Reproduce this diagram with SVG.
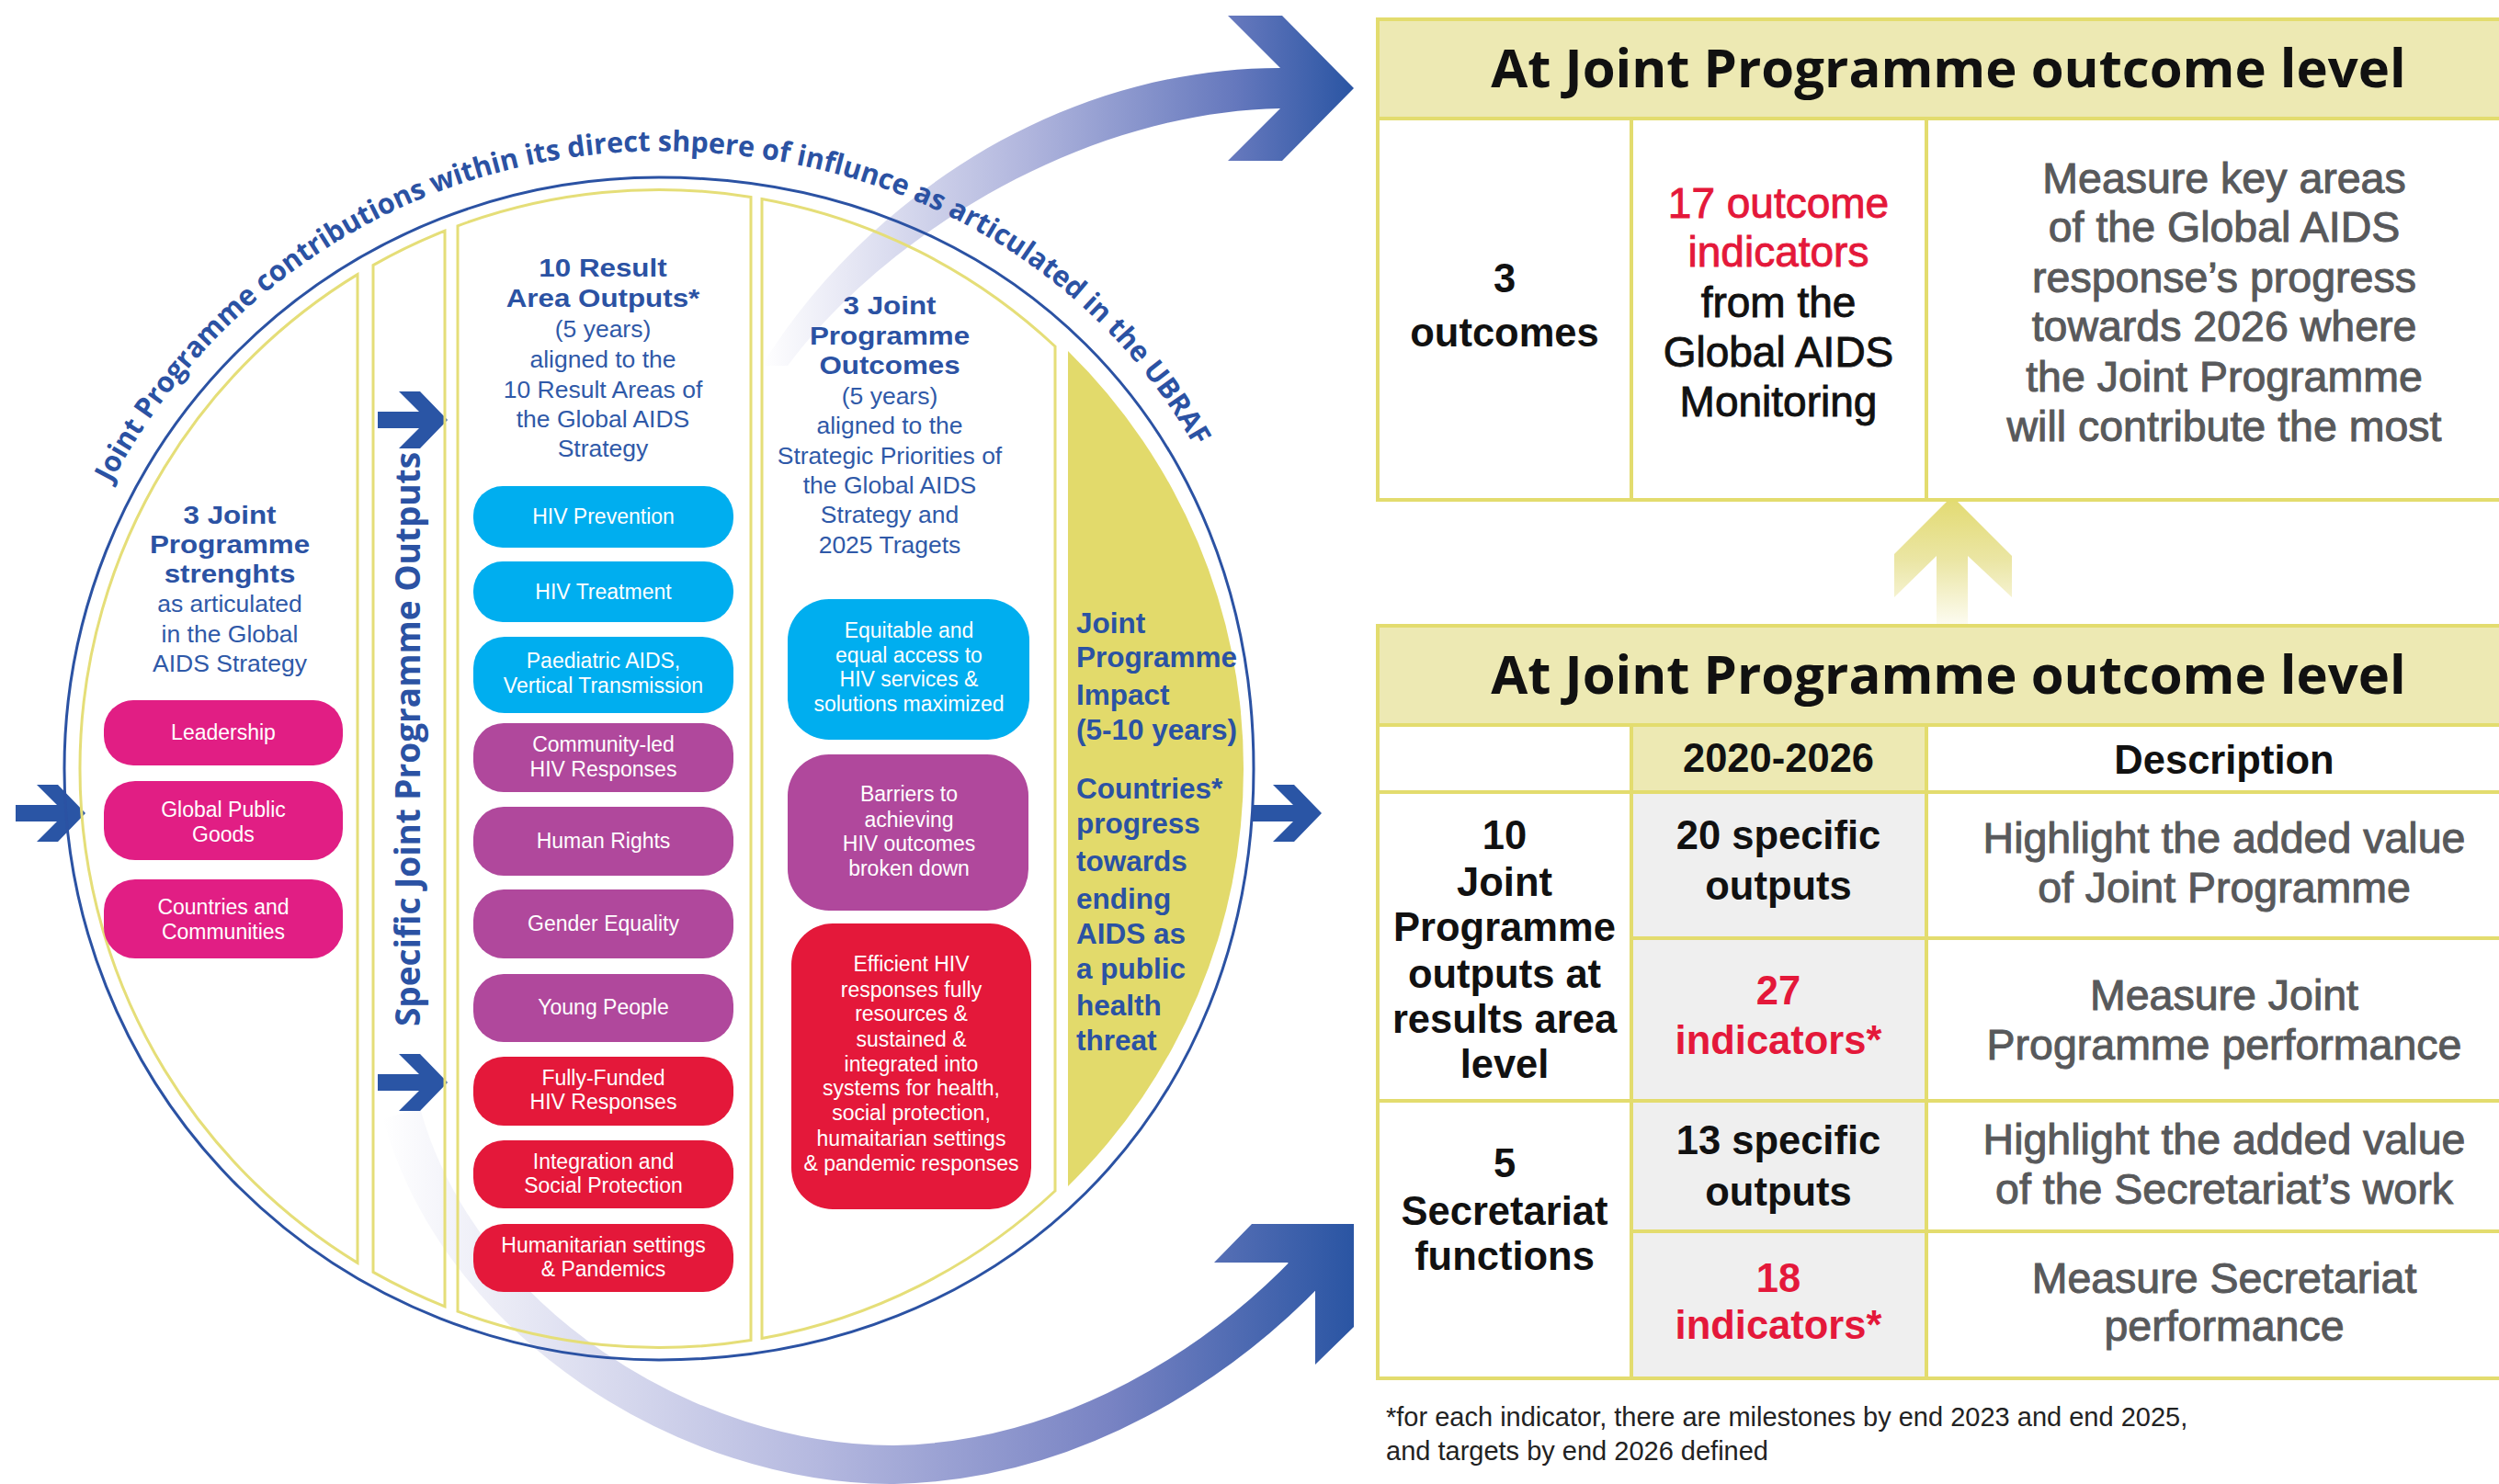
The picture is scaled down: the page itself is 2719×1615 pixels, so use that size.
<svg xmlns="http://www.w3.org/2000/svg" width="2719" height="1615" viewBox="0 0 2719 1615">
<defs>
<style>
text{font-family:"Liberation Sans","Open Sans",sans-serif}
.os{font-family:"Open Sans","Liberation Sans",sans-serif}
.hb{font-weight:700;font-size:28.5px;fill:#2b52a3;text-anchor:middle}
.hr{font-weight:400;font-size:26.5px;fill:#2f59a8;text-anchor:middle}
.imp{font-weight:700;font-size:31.5px;fill:#2b52a3}
.pt{font-size:23px;fill:#ffffff;text-anchor:middle}
.col{fill:none;stroke:#e5de78;stroke-width:3}
.mag{fill:#e11e84}
.cya{fill:#00aeef}
.pur{fill:#b0489c}
.red{fill:#e4183a}
.tb{fill:#ffffff;stroke:#e3dc6e;stroke-width:4}
.th{fill:#ede9b3;stroke:#e3dc6e;stroke-width:4}
.ln{stroke:#e3dc6e;stroke-width:4}
.tt{font-family:"Open Sans","Liberation Sans",sans-serif;font-weight:700;font-size:58px;fill:#111111;text-anchor:middle}
.k1{font-weight:700;font-size:43.5px;fill:#111111;text-anchor:middle}
.kr{font-weight:700;font-size:43.5px;fill:#e4183a;text-anchor:middle}
.m1{font-weight:400;font-size:46px;fill:#111111;stroke:#111111;stroke-width:0.9px;text-anchor:middle}
.mr{font-weight:400;font-size:46px;fill:#e4183a;stroke:#e4183a;stroke-width:0.9px;text-anchor:middle}
.gr{font-weight:400;font-size:46.5px;fill:#58595b;stroke:#58595b;stroke-width:1px;text-anchor:middle}
.blue{fill:#2a55a5}
</style>
<linearGradient id="gUp" gradientUnits="userSpaceOnUse" x1="829" y1="0" x2="1473" y2="0">
<stop offset="0" stop-color="#ffffff"/>
<stop offset="0.15" stop-color="#e6e7f4"/>
<stop offset="0.45" stop-color="#b0b5dd"/>
<stop offset="0.8" stop-color="#6578bd"/>
<stop offset="1" stop-color="#2a55a3"/>
</linearGradient>
<linearGradient id="gLow" gradientUnits="userSpaceOnUse" x1="416" y1="0" x2="1473" y2="0">
<stop offset="0" stop-color="#ffffff"/>
<stop offset="0.15" stop-color="#e6e7f4"/>
<stop offset="0.45" stop-color="#b4b8df"/>
<stop offset="0.75" stop-color="#7883c3"/>
<stop offset="1" stop-color="#2a55a3"/>
</linearGradient>
<linearGradient id="gYel" gradientUnits="userSpaceOnUse" x1="0" y1="540" x2="0" y2="681">
<stop offset="0" stop-color="#e2da70"/>
<stop offset="0.5" stop-color="#ebe6a5"/>
<stop offset="1" stop-color="#fdfcf2"/>
</linearGradient>
<polygon id="chev" points="-53,-31 -30,-31 0,0 -30,31 -53,31 -31,9 -76,9 -76,-9 -31,-9"/>
<path id="arc" d="M 45 836.5 A 672 672 0 0 1 717 164.5 C 1106.8 164.5 1389 446.7 1389 836.5"/>
</defs>

<rect x="0" y="0" width="2719" height="1615" fill="#ffffff"/>

<g id="connectors">
<path d="M 829 398 C 933 228 1143 74 1393 74 L 1336 17 L 1395 17 L 1473 96 L 1395 175 L 1336 175 L 1393 118 C 1180 122 965 254 857 398 Z" fill="url(#gUp)"/>
<path d="M 437 1212 C 500 1440 750 1595 973 1594 C 1170 1590 1330 1480 1424 1382" fill="none" stroke="url(#gLow)" stroke-width="42"/>
<polygon points="1321,1374 1362,1332 1473,1332 1473,1444 1431,1485 1431,1405 1401,1374" fill="url(#gLow)"/>
<polygon points="2124,540 2189,605 2189,650 2141,605 2141,681 2107,681 2107,605 2061,650 2061,603" fill="url(#gYel)"/>
<use href="#chev" class="blue" transform="translate(93,885)"/>
<use href="#chev" class="blue" transform="translate(1438,885)"/>
<use href="#chev" class="blue" transform="translate(487,457)"/>
<use href="#chev" class="blue" transform="translate(487,1178)"/>
</g>

<g id="frame">
<path d="M 717 193 C 1092.3 193 1364 463.3 1364 836.5 C 1364 1209.7 1092.3 1480 717 1480 A 647 643.5 0 0 1 70 836.5 A 647 643.5 0 0 1 717 193 Z" fill="none" stroke="#2b52a3" stroke-width="3"/>
<text class="os" font-size="31" font-weight="700" fill="#2b52a3"><textPath href="#arc" startOffset="323" textLength="1431" lengthAdjust="spacingAndGlyphs">Joint Programme contributions within its direct shpere of influnce as articulated in the UBRAF</textPath></text>
</g>

<g id="col-strengths">
<path class="col" d="M 389 298.6 L 389 1374.4 A 630 630 0 0 1 389 298.6 Z"/>
<g transform="translate(250 0) scale(1.1 1)">
<text class="hb" x="0" y="570">3 Joint</text>
<text class="hb" x="0" y="602">Programme</text>
<text class="hb" x="0" y="634">strenghts</text>
</g>
<text class="hr" x="250" y="666">as articulated</text>
<text class="hr" x="250" y="699">in the Global</text>
<text class="hr" x="250" y="731">AIDS Strategy</text>
</g>
<g id="col-specific">
<path class="col" d="M 406 288.6 A 630 630 0 0 1 484 251.2 L 484 1421.8 A 630 630 0 0 1 406 1384.4 Z"/>
<text class="os" transform="translate(457,1117) rotate(-90)" font-size="38" font-weight="700" fill="#2b52a3" textLength="625" lengthAdjust="spacingAndGlyphs">Specific Joint Programme Outputs</text>
</g>
<g id="col-results">
<path class="col" d="M 498 245.8 A 630 630 0 0 1 817 214.5 L 817 1458.5 A 630 630 0 0 1 498 1427.2 Z"/>
<g transform="translate(656 0) scale(1.1 1)">
<text class="hb" x="0" y="301">10 Result</text>
<text class="hb" x="0" y="334">Area Outputs*</text>
</g>
<text class="hr" x="656" y="367">(5 years)</text>
<text class="hr" x="656" y="400">aligned to the</text>
<text class="hr" x="656" y="433">10 Result Areas of</text>
<text class="hr" x="656" y="465">the Global AIDS</text>
<text class="hr" x="656" y="497">Strategy</text>
</g>
<g id="col-outcomes">
<path class="col" d="M 829 216.5 A 630 630 0 0 1 1148 377 L 1148 1296 A 630 630 0 0 1 829 1456.5 Z"/>
<g transform="translate(968 0) scale(1.1 1)">
<text class="hb" x="0" y="342">3 Joint</text>
<text class="hb" x="0" y="375">Programme</text>
<text class="hb" x="0" y="407">Outcomes</text>
</g>
<text class="hr" x="968" y="440">(5 years)</text>
<text class="hr" x="968" y="472">aligned to the</text>
<text class="hr" x="968" y="505">Strategic Priorities of</text>
<text class="hr" x="968" y="537">the Global AIDS</text>
<text class="hr" x="968" y="569">Strategy and</text>
<text class="hr" x="968" y="602">2025 Tragets</text>
</g>
<g id="col-impact">
<path d="M 1162 382.1 A 636 636 0 0 1 1162 1290.9 Z" fill="#e2da6b"/>
<text class="imp" x="1171" y="689">Joint</text>
<text class="imp" x="1171" y="726">Programme</text>
<text class="imp" x="1171" y="767">Impact</text>
<text class="imp" x="1171" y="805">(5-10 years)</text>
<text class="imp" x="1171" y="869">Countries*</text>
<text class="imp" x="1171" y="907">progress</text>
<text class="imp" x="1171" y="948">towards</text>
<text class="imp" x="1171" y="989">ending</text>
<text class="imp" x="1171" y="1027">AIDS as</text>
<text class="imp" x="1171" y="1065">a public</text>
<text class="imp" x="1171" y="1105">health</text>
<text class="imp" x="1171" y="1143">threat</text>
</g>

<g id="leadership"><rect class="mag" x="113" y="762" width="260" height="71" rx="32"/><text class="pt" x="243" y="805">Leadership</text></g>
<g id="global-public-goods"><rect class="mag" x="113" y="850" width="260" height="86" rx="34"/><text class="pt" x="243" y="889">Global Public</text><text class="pt" x="243" y="916">Goods</text></g>
<g id="countries-communities"><rect class="mag" x="113" y="957" width="260" height="86" rx="34"/><text class="pt" x="243" y="995">Countries and</text><text class="pt" x="243" y="1022">Communities</text></g>

<g id="hiv-prevention"><rect class="cya" x="515" y="529" width="283" height="67" rx="32"/><text class="pt" x="656.5" y="570">HIV Prevention</text></g>
<g id="hiv-treatment"><rect class="cya" x="515" y="611" width="283" height="66" rx="32"/><text class="pt" x="656.5" y="651.5">HIV Treatment</text></g>
<g id="paediatric-aids"><rect class="cya" x="515" y="693" width="283" height="83" rx="34"/><text class="pt" x="656.5" y="727">Paediatric AIDS,</text><text class="pt" x="656.5" y="754">Vertical Transmission</text></g>
<g id="community-led"><rect class="pur" x="515" y="787" width="283" height="75" rx="33"/><text class="pt" x="656.5" y="818">Community-led</text><text class="pt" x="656.5" y="845">HIV Responses</text></g>
<g id="human-rights"><rect class="pur" x="515" y="878" width="283" height="75" rx="33"/><text class="pt" x="656.5" y="923">Human Rights</text></g>
<g id="gender-equality"><rect class="pur" x="515" y="968" width="283" height="75" rx="33"/><text class="pt" x="656.5" y="1013">Gender Equality</text></g>
<g id="young-people"><rect class="pur" x="515" y="1060" width="283" height="74" rx="33"/><text class="pt" x="656.5" y="1104">Young People</text></g>
<g id="fully-funded"><rect class="red" x="515" y="1150" width="283" height="75" rx="33"/><text class="pt" x="656.5" y="1181">Fully-Funded</text><text class="pt" x="656.5" y="1207">HIV Responses</text></g>
<g id="integration"><rect class="red" x="515" y="1241" width="283" height="74" rx="33"/><text class="pt" x="656.5" y="1272">Integration and</text><text class="pt" x="656.5" y="1298">Social Protection</text></g>
<g id="humanitarian"><rect class="red" x="515" y="1332" width="283" height="74" rx="33"/><text class="pt" x="656.5" y="1363">Humanitarian settings</text><text class="pt" x="656.5" y="1389">&amp; Pandemics</text></g>

<g id="equitable-access"><rect class="cya" x="857" y="652" width="263" height="153" rx="45"/>
<text class="pt" x="989" y="694">Equitable and</text><text class="pt" x="989" y="721">equal access to</text><text class="pt" x="989" y="747">HIV services &amp;</text><text class="pt" x="989" y="774">solutions maximized</text></g>
<g id="barriers"><rect class="pur" x="857" y="821" width="262" height="170" rx="45"/>
<text class="pt" x="989" y="872">Barriers to</text><text class="pt" x="989" y="900">achieving</text><text class="pt" x="989" y="926">HIV outcomes</text><text class="pt" x="989" y="953">broken down</text></g>
<g id="efficient-hiv"><rect class="red" x="861" y="1005" width="261" height="311" rx="45"/>
<text class="pt" x="991.5" y="1057">Efficient HIV</text><text class="pt" x="991.5" y="1085">responses fully</text><text class="pt" x="991.5" y="1111">resources &amp;</text><text class="pt" x="991.5" y="1139">sustained &amp;</text><text class="pt" x="991.5" y="1166">integrated into</text><text class="pt" x="991.5" y="1192">systems for health,</text><text class="pt" x="991.5" y="1219">social protection,</text><text class="pt" x="991.5" y="1247">humaitarian settings</text><text class="pt" x="991.5" y="1274">&amp; pandemic responses</text></g>

<g id="table-outcome-level">
<rect class="th" x="1499" y="21" width="1250" height="108"/>
<rect class="tb" x="1499" y="129" width="1250" height="415"/>
<line class="ln" x1="1775" y1="129" x2="1775" y2="544"/>
<line class="ln" x1="2096" y1="129" x2="2096" y2="544"/>
<text class="tt" x="2120" y="95">At Joint Programme outcome level</text>
<text class="k1" x="1637" y="318" font-size="47">3</text>
<text class="k1" x="1637" y="377" font-size="47">outcomes</text>
<text class="mr" x="1935" y="237">17 outcome</text>
<text class="mr" x="1935" y="290">indicators</text>
<text class="m1" x="1935" y="345">from the</text>
<text class="m1" x="1935" y="399">Global AIDS</text>
<text class="m1" x="1935" y="453">Monitoring</text>
<text class="gr" x="2420" y="210">Measure key areas</text>
<text class="gr" x="2420" y="263">of the Global AIDS</text>
<text class="gr" x="2420" y="318">response’s progress</text>
<text class="gr" x="2420" y="371">towards 2026 where</text>
<text class="gr" x="2420" y="426">the Joint Programme</text>
<text class="gr" x="2420" y="480">will contribute the most</text>
</g>

<g id="table-results">
<rect class="th" x="1499" y="681" width="1250" height="108"/>
<rect class="tb" x="1499" y="789" width="1250" height="711"/>
<rect x="1775" y="789" width="321" height="73" fill="#ede9b3"/>
<rect x="1775" y="862" width="321" height="638" fill="#efefef"/>
<line class="ln" x1="1499" y1="862" x2="2749" y2="862"/>
<line class="ln" x1="1775" y1="1021" x2="2749" y2="1021"/>
<line class="ln" x1="1499" y1="1198" x2="2749" y2="1198"/>
<line class="ln" x1="1775" y1="1340" x2="2749" y2="1340"/>
<line class="ln" x1="1775" y1="789" x2="1775" y2="1500"/>
<line class="ln" x1="2096" y1="789" x2="2096" y2="1500"/>
<rect x="1499" y="789" width="1250" height="711" fill="none" stroke="#e3dc6e" stroke-width="4"/>
<text class="tt" x="2120" y="755">At Joint Programme outcome level</text>
<text class="k1" x="1935" y="840">2020-2026</text>
<text class="k1" x="2420" y="842">Description</text>
<text class="k1" x="1637" y="924">10</text>
<text class="k1" x="1637" y="975">Joint</text>
<text class="k1" x="1637" y="1024">Programme</text>
<text class="k1" x="1637" y="1075">outputs at</text>
<text class="k1" x="1637" y="1124">results area</text>
<text class="k1" x="1637" y="1173">level</text>
<text class="k1" x="1637" y="1281">5</text>
<text class="k1" x="1637" y="1333">Secretariat</text>
<text class="k1" x="1637" y="1382">functions</text>
<text class="k1" x="1935" y="924">20 specific</text>
<text class="k1" x="1935" y="979">outputs</text>
<text class="kr" x="1935" y="1093">27</text>
<text class="kr" x="1935" y="1147">indicators*</text>
<text class="k1" x="1935" y="1256">13 specific</text>
<text class="k1" x="1935" y="1312">outputs</text>
<text class="kr" x="1935" y="1406">18</text>
<text class="kr" x="1935" y="1457">indicators*</text>
<text class="gr" x="2420" y="928">Highlight the added value</text>
<text class="gr" x="2420" y="982">of Joint Programme</text>
<text class="gr" x="2420" y="1099">Measure Joint</text>
<text class="gr" x="2420" y="1153">Programme performance</text>
<text class="gr" x="2420" y="1256">Highlight the added value</text>
<text class="gr" x="2420" y="1310">of the Secretariat’s work</text>
<text class="gr" x="2420" y="1407">Measure Secretariat</text>
<text class="gr" x="2420" y="1459">performance</text>
</g>

<g id="footnote">
<text x="1508" y="1552" font-size="29" fill="#222222">*for each indicator, there are milestones by end 2023 and end 2025,</text>
<text x="1508" y="1589" font-size="29" fill="#222222">and targets by end 2026 defined</text>
</g>
</svg>
